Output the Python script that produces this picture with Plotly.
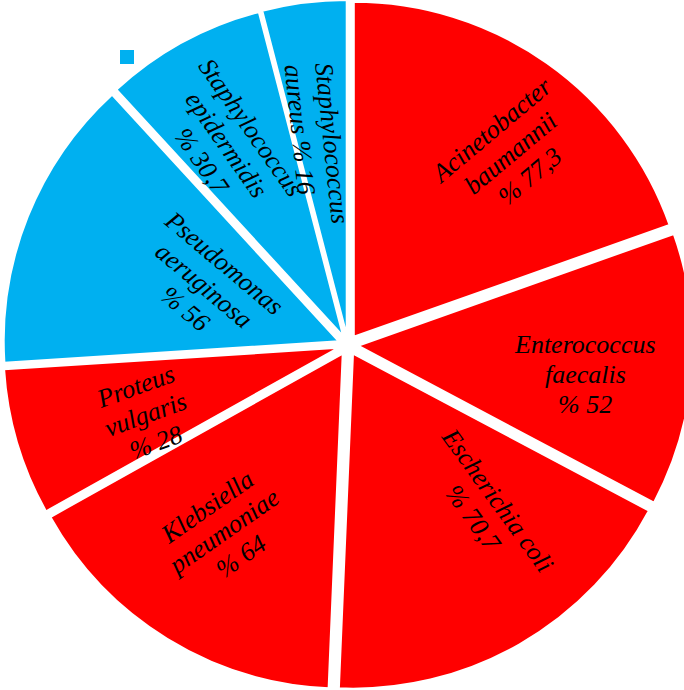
import math
import plotly.graph_objects as go

names = ["Acinetobacter<br>baumannii", "Enterococcus<br>faecalis", "Escherichia coli",
         "Klebsiella<br>pneumoniae", "Proteus<br>vulgaris", "Pseudomonas<br>aeruginosa",
         "Staphylococcus<br>epidermidis", "Staphylococcus<br>aureus"]
values = [77.3, 52, 70.7, 64, 28, 56, 30.7, 16]
colors = ["#FF0000", "#FF0000", "#FF0000", "#FF0000", "#FF0000", "#00B0F0", "#00B0F0", "#00B0F0"]

# label layout (styling): angle nudge from slice mid-angle, radius fraction, text angle, alignment
label_dtheta = [5.0, 2.8, -10.1, 2.0, -2.6, 0.4, -2.7, -1.6]
label_rfrac = [0.75, 0.713, 0.64, 0.67, 0.638, 0.465, 0.70, 0.606]
label_angle = [-40, 0, 54, -35, -20, 40, 55, 84]
label_align = ["center"] * 7 + ["left"]

W, H = 696, 690
PULL = 0.03
FS = 26
LS = 30
FONT = dict(family="Liberation Serif", size=FS, color="black", style="italic")


def fmt(v):
    return ("%g" % v).replace(".", ",")


def approx_w(s):
    w = 0.0
    for ch in s:
        if ch == " ":
            w += 0.25
        elif ch == "%":
            w += 0.83
        elif ch in "il":
            w += 0.28
        else:
            w += 0.47
    return w * FS


label_lines = []
for n, v in zip(names, values):
    parts = n.split("<br>")
    if n.endswith("aureus"):
        parts = [parts[0], f"{parts[1]} % {fmt(v)}"]
    else:
        parts = parts + [f"% {fmt(v)}"]
    label_lines.append(parts)

fig = go.Figure(go.Pie(
    labels=[n.replace("<br>", " ") for n in names],
    values=values,
    textinfo="none",
    sort=False,
    direction="clockwise",
    rotation=0,
    pull=[PULL] * len(values),
    marker=dict(colors=colors, line=dict(color="white", width=2)),
    hoverinfo="skip",
    showlegend=False,
))

# place labels using slice geometry derived from the values
total = sum(values)
r = (min(W, H) / 2) / (1 + PULL)
cx, cy = W / 2, H / 2
annotations = []
cum = 0.0
for i, v in enumerate(values):
    mid = (cum + v / 2) / total * 360
    cum += v
    th = math.radians(mid + label_dtheta[i])
    R = label_rfrac[i] * r
    bx = cx + R * math.sin(th)
    by = cy - R * math.cos(th)
    a = math.radians(label_angle[i])
    down = (-math.sin(a), math.cos(a))
    along = (math.cos(a), math.sin(a))
    lines = label_lines[i]
    n = len(lines)
    wmax = max(approx_w(s) for s in lines)
    for j, s in enumerate(lines):
        k = (j - (n - 1) / 2) * LS
        px = bx + k * down[0]
        py = by + k * down[1]
        if label_align[i] == "left":
            sh = (wmax - approx_w(s)) / 2
            px -= sh * along[0]
            py -= sh * along[1]
        annotations.append(dict(
            x=px / W, y=1 - py / H, xref="paper", yref="paper",
            text=s, showarrow=False, textangle=label_angle[i],
            xanchor="center", yanchor="middle", font=FONT,
        ))

fig.update_layout(
    width=W, height=H,
    margin=dict(l=0, r=0, t=0, b=0),
    paper_bgcolor="white",
    plot_bgcolor="white",
    annotations=annotations,
    shapes=[dict(type="rect", xref="paper", yref="paper",
                 x0=120 / W, x1=134 / W, y0=1 - 64 / H, y1=1 - 50 / H,
                 fillcolor="#00B0F0", line=dict(width=0))],
)

fig.write_html("out.html", config={"displayModeBar": False},
               post_script="document.body.style.margin='0';document.body.style.overflow='hidden';document.documentElement.style.overflow='hidden';")
